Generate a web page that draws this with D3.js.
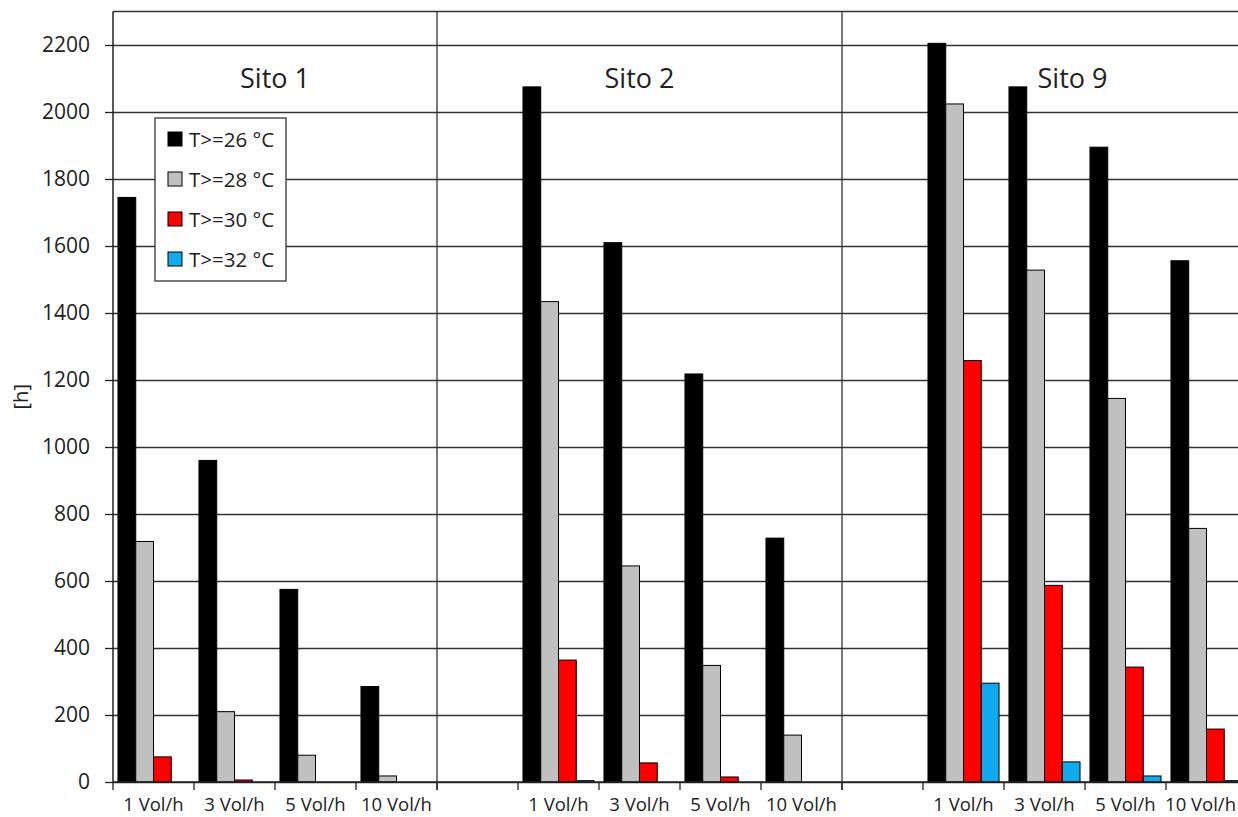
<!DOCTYPE html>
<html>
<head>
<meta charset="utf-8">
<script src="https://cdn.jsdelivr.net/npm/d3@7"></script>
<style>
  body { margin: 0; background: #fff; }
  text { font-family: "Open Sans", "Noto Sans", sans-serif; fill: #222; }
</style>
</head>
<body>
<svg width="1238" height="817"></svg>
<script>
var sites = ["Sito 1", "Sito 2", "Sito 9"],
    rates = ["1 Vol/h", "3 Vol/h", "5 Vol/h", "10 Vol/h"],
    seriesNames = ["T>=26 °C", "T>=28 °C", "T>=30 °C", "T>=32 °C"],
    colors = ["#000000", "#c0c0c0", "#ff0000", "#11aaee"],
    yTicks = [0, 200, 400, 600, 800, 1000, 1200, 1400, 1600, 1800, 2000, 2200];

// values per site, in order of rates
var t26 = [[1745, 960, 575, 285], [2075, 1610, 1218, 728], [2205, 2075, 1895, 1556]],
    t28 = [[718, 210, 80, 18], [1434, 645, 348, 140], [2024, 1528, 1145, 757]],
    t30 = [[75, 6, 0, 0], [364, 57, 15, 0], [1258, 587, 343, 158]],
    t32 = [[0, 0, 0, 0], [4, 0, 0, 0], [295, 60, 18, 4]];
var allSeries = [t26, t28, t30, t32];

var svg = d3.select("svg"),
    svgWidth = 1238,
    margin = {top: 11.5, left: 113, bottom: 35},
    plotRight = 1247,
    height = 817 - margin.bottom;

// category keys: site rates, with an empty slot before every site but the first
var keys = [];
sites.forEach(function(s, si) {
  if (si > 0) keys.push("gap" + si);
  rates.forEach(function(r, ri) { keys.push(si + "|" + ri); });
});

var x = d3.scaleBand().domain(keys).range([margin.left, plotRight]).padding(0);
var x1 = d3.scaleBand().domain(seriesNames).range([0, x.bandwidth()]).paddingInner(0).paddingOuter(0.28);
var y = d3.scaleLinear().domain([0, 2300]).range([height, margin.top]);

// grid
svg.append("g")
    .attr("transform", "translate(" + margin.left + ",0)")
    .call(d3.axisLeft(y).tickValues(yTicks).tickSize(-(plotRight - margin.left)).tickFormat(""))
    .call(function(g) { g.select(".domain").remove(); })
    .selectAll("line").attr("stroke", "#333").attr("stroke-width", 1.3);

// top border
svg.append("line")
    .attr("x1", margin.left).attr("x2", plotRight)
    .attr("y1", y(2300)).attr("y2", y(2300))
    .attr("stroke", "#333").attr("stroke-width", 1.3);

// site separators
["gap1", "gap2"].forEach(function(k) {
  svg.append("line")
      .attr("x1", x(k)).attr("x2", x(k))
      .attr("y1", y(2300)).attr("y2", height + 8)
      .attr("stroke", "#333").attr("stroke-width", 1.3);
});

// bars
var barData = [];
sites.forEach(function(s, si) {
  rates.forEach(function(r, ri) {
    allSeries.forEach(function(arr, k) {
      barData.push({key: si + "|" + ri, name: seriesNames[k], value: arr[si][ri], color: colors[k]});
    });
  });
});
svg.append("g").selectAll("rect")
  .data(barData.filter(function(d) { return d.value > 0; }))
  .enter().append("rect")
    .attr("x", function(d) { return x(d.key) + x1(d.name); })
    .attr("width", x1.bandwidth())
    .attr("y", function(d) { return y(d.value); })
    .attr("height", function(d) { return y(0) - y(d.value); })
    .attr("fill", function(d) { return d.color; })
    .attr("stroke", "#000")
    .attr("stroke-width", 1);

// y axis
var yAxis = svg.append("g")
    .attr("transform", "translate(" + margin.left + ",0)")
    .call(d3.axisLeft(y).tickValues(yTicks).tickFormat(d3.format("d")).tickSize(8).tickPadding(15));
yAxis.select(".domain").attr("d", "M0," + y(2300) + "V" + y(0)).attr("stroke", "#222").attr("stroke-width", 1.5);
yAxis.selectAll("line").attr("stroke", "#222").attr("stroke-width", 1.3);
yAxis.selectAll("text").style("font-size", "21px").style("font-family", "'Open Sans', sans-serif").attr("fill", "#222");

svg.append("text")
    .attr("transform", "translate(28," + y(1150) + ") rotate(-90)")
    .attr("text-anchor", "middle")
    .style("font-size", "20px")
    .text("[h]");

// x axis
svg.append("line")
    .attr("x1", margin.left).attr("x2", plotRight)
    .attr("y1", y(0)).attr("y2", y(0))
    .attr("stroke", "#222").attr("stroke-width", 1.5);
var bounds = keys.map(function(k) { return x(k); }).concat([plotRight]);
svg.append("g").selectAll("line")
  .data(bounds)
  .enter().append("line")
    .attr("x1", function(d) { return d; }).attr("x2", function(d) { return d; })
    .attr("y1", y(0)).attr("y2", y(0) + 8)
    .attr("stroke", "#222").attr("stroke-width", 1.3);
svg.append("g").selectAll("text")
  .data(keys.filter(function(k) { return k.indexOf("gap") < 0; }))
  .enter().append("text")
    .attr("x", function(k) { return x(k) + x.bandwidth() / 2; })
    .attr("y", y(0) + 29)
    .attr("text-anchor", "middle")
    .style("font-size", "18.5px")
    .text(function(k) { return rates[+k.split("|")[1]]; })
    .each(function() {
      // keep the last label inside the picture
      var w = this.getComputedTextLength(), cx = +this.getAttribute("x");
      if (cx + w / 2 > svgWidth - 2) d3.select(this).attr("x", svgWidth - 2 - w / 2);
    });

// site titles (the last one sits a bit to the right, clear of the tall bar)
sites.forEach(function(s, si) {
  var first = x(si + "|0"), last = x(si + "|3") + x.bandwidth();
  var start = si > 0 ? x("gap" + si) : first;
  var shift = si === 2 ? 28 : 0;
  svg.append("text")
      .attr("x", (start + last) / 2 + shift)
      .attr("y", 88)
      .attr("text-anchor", "middle")
      .style("font-size", "27px")
      .text(s);
});

// legend
var legend = svg.append("g").attr("transform", "translate(155,118)");
legend.append("rect")
    .attr("width", 131).attr("height", 163)
    .attr("fill", "#fff").attr("stroke", "#333").attr("stroke-width", 1.3);
seriesNames.forEach(function(name, i) {
  var row = legend.append("g").attr("transform", "translate(13," + (21 + i * 40) + ")");
  row.append("rect")
      .attr("x", 0).attr("y", -7).attr("width", 14).attr("height", 14)
      .attr("fill", colors[i]).attr("stroke", "#000").attr("stroke-width", 1);
  row.append("text")
      .attr("x", 21).attr("y", 8)
      .style("font-size", "20.5px")
      .text(name);
});
</script>
</body>
</html>
